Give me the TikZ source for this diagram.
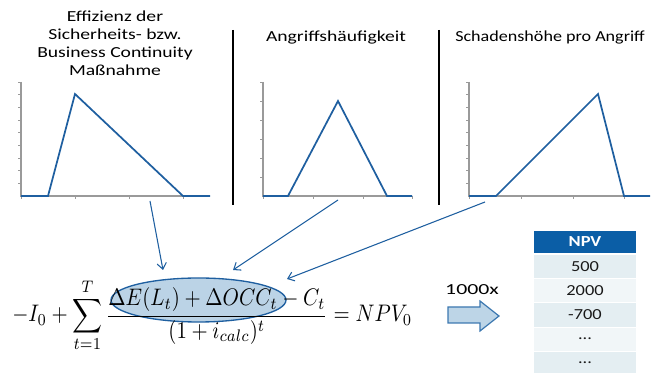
\documentclass[tikz,border=0pt]{standalone}
\usepackage{fontspec}
\usepackage{graphicx}
\setmainfont{Carlito}
\newfontfamily\titlefont{Carlito}[FakeStretch=1.28]
\newfontfamily\titlefontB{Carlito}[FakeStretch=1.18]
\newfontfamily\repfont{Carlito}[FakeStretch=1.42]
\newfontfamily\tabfont{Carlito}[FakeStretch=1.2]
\usetikzlibrary{arrows.meta}
\definecolor{curveblue}{HTML}{1F5FA0}
\definecolor{axisgray}{HTML}{9A9A9A}
\definecolor{ellfill}{HTML}{BBD3E6}
\definecolor{hdrblue}{HTML}{0B5EA6}
\definecolor{rowA}{HTML}{E4EEF2}
\definecolor{rowB}{HTML}{F1F6F8}
\definecolor{bigarrowfill}{HTML}{BDD5E7}
\definecolor{bigarrowline}{HTML}{3C78B0}
\tikzset{
  axisline/.style={draw=axisgray, line width=0.8pt},
  tickline/.style={draw=axisgray, line width=0.6pt},
  curve/.style={draw=curveblue, line width=1.3pt, line join=miter},
  sepbar/.style={draw=black, line width=1.5pt},
  linkarrow/.style={draw=curveblue, line width=0.8pt, -{Straight Barb[length=4.5pt,width=7pt]}},
  titletext/.style={font=\titlefont\fontsize{11.5}{13.6}\selectfont, align=center, inner sep=0pt},
  cell/.style={minimum width=76pt, minimum height=17pt, inner sep=0pt, font=\tabfont\fontsize{11.5}{14}\selectfont, text=black!90},
}
\begin{document}
\begin{tikzpicture}[x=0.75pt,y=-0.75pt]
\useasboundingbox (0,0) rectangle (653,373);

% ---------- titles ----------
\node[titletext] (t1) at (115,43) {Effizienz der\\Sicherheits- bzw.\\Business Continuity\\Maßnahme};
\node[titletext] (t2) at (336,38) {Angriffshäufigkeit};
\node[titletext, font=\titlefontB\fontsize{11.5}{13.6}\selectfont, anchor=west] (t3) at (455,38) {Schadenshöhe pro Angriff};

% ---------- separators ----------
\draw[sepbar] (233,30) -- (233,205);
\draw[sepbar] (439,30) -- (439,205);

% ---------- chart 1 ----------
\draw[axisline] (21,82) -- (21,196) -- (210,196);
\foreach \k in {0,...,8} \draw[tickline] (18,{82+\k*12.67}) -- (21,{82+\k*12.67});
\foreach \xx in {21,75,129,183} \draw[tickline] (\xx,196) -- (\xx,199);
\draw[curve] (21,196) -- (48,196) -- (75,94) -- (183,196) -- (210,196);

% ---------- chart 2 ----------
\draw[axisline] (263,82) -- (263,196) -- (412,196);
\foreach \k in {0,...,5} \draw[tickline] (260,{82+\k*19}) -- (263,{82+\k*19});
\foreach \xx in {263,313,363,412} \draw[tickline] (\xx,196) -- (\xx,199);
\draw[curve] (263,196) -- (288,196) -- (338,101) -- (387,196) -- (412,196);

% ---------- chart 3 ----------
\draw[axisline] (469,82) -- (469,196) -- (650,196);
\foreach \k in {0,...,8} \draw[tickline] (466,{82+\k*12.67}) -- (469,{82+\k*12.67});
\foreach \xx in {469,521,573,624} \draw[tickline] (\xx,196) -- (\xx,199);
\draw[curve] (469,196) -- (496,196) -- (598,94) -- (624,196) -- (650,196);

% ---------- highlight ellipse ----------
\coordinate (ell) at (198.5,300);
\draw[draw=curveblue, fill=ellfill, line width=1pt] (ell) ellipse [x radius=87.5, y radius=22];

% ---------- formula ----------
\node[anchor=base west, inner sep=0pt] (f) at (12,322)
  {\scalebox{1}[1.15]{\resizebox{300pt}{!}{$\displaystyle -I_0+\sum_{t=1}^{T}\frac{\Delta E(L_t)+\Delta OCC_t-C_t}{(1+i_{calc})^t}=NPV_0$}}};

% ---------- connector arrows ----------
\coordinate (s1) at (150,201);
\coordinate (e1) at (163,270);
\coordinate (s2) at (338,200);
\coordinate (e2) at (233,270);
\coordinate (s3) at (485,202);
\coordinate (e3) at (287,279);
\draw[linkarrow] (s1) -- (e1);
\draw[linkarrow] (s2) -- (e2);
\draw[linkarrow] (s3) -- (e3);

% ---------- block arrow ----------
\node[font=\repfont\fontsize{11.5}{14}\selectfont, inner sep=0pt] (rep) at (472,290) {1000x};
\draw[draw=bigarrowline, fill=bigarrowfill, line width=0.9pt, line join=miter]
  (448,307) -- (480,307) -- (480,301) -- (499,316) -- (480,331) -- (480,323) -- (448,323) -- cycle;

% ---------- table ----------
\fill[hdrblue] (534,231) rectangle (636,253);
\node[font=\tabfont\bfseries\fontsize{11.5}{14}\selectfont, text=white, inner sep=0pt] (hdr) at (585,242) {NPV};
\fill[rowA] (534,255) rectangle (636,278);
\fill[rowB] (534,279) rectangle (636,302);
\fill[rowA] (534,303) rectangle (636,327);
\fill[rowB] (534,328) rectangle (636,351);
\fill[rowA] (534,352) rectangle (636,373);
\node[cell] (r1) at (585,267) {500};
\node[cell] (r2) at (585,291) {2000};
\node[cell] (r3) at (585,315) {-700};
\node[cell] (r4) at (585,339) {...};
\node[cell] (r5) at (585,363) {...};
\end{tikzpicture}
\end{document}
